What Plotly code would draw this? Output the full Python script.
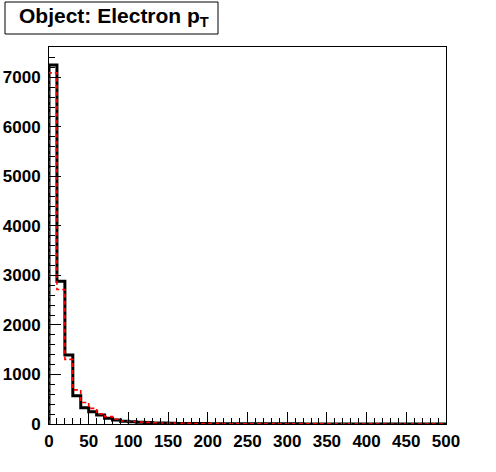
import plotly.graph_objects as go

bin_edges = [0, 10, 20, 30, 40, 50, 60, 70, 80, 90, 100, 110, 120, 130, 140, 150, 160, 170, 180, 190,
             200, 210, 220, 230, 240, 250, 260, 270, 280, 290, 300, 310, 320, 330, 340, 350, 360, 370,
             380, 390, 400, 410, 420, 430, 440, 450, 460, 470, 480, 490, 500]

black_counts = [7250, 2880, 1395, 570, 330, 248, 182, 114, 80, 58,
                45, 35, 28, 22, 18, 15, 12, 10, 9, 8,
                7, 6, 6, 5, 5, 4, 4, 4, 3, 3,
                3, 3, 2, 2, 2, 2, 2, 2, 1, 1,
                1, 1, 1, 1, 1, 1, 1, 1, 1, 1]

red_counts = [7090, 2716, 1305, 690, 435, 315, 205, 148, 95, 62,
              50, 40, 32, 25, 20, 17, 14, 12, 10, 9,
              8, 7, 6, 6, 5, 5, 4, 4, 4, 3,
              3, 3, 3, 2, 2, 2, 2, 2, 2, 1,
              1, 1, 1, 1, 1, 1, 1, 1, 1, 1]

x_tick_vals = [0, 50, 100, 150, 200, 250, 300, 350, 400, 450, 500]
y_tick_vals = [0, 1000, 2000, 3000, 4000, 5000, 6000, 7000]

def step(counts):
    xs = list(bin_edges[:-1]) + [bin_edges[-1]]
    ys = list(counts) + [counts[-1]]
    return [bin_edges[0]] + xs, [0] + ys

fig = go.Figure()
bx, by = step(black_counts)
fig.add_trace(go.Scatter(x=bx, y=by, mode="lines", line_shape="hv",
                         line=dict(color="black", width=3), showlegend=False, hoverinfo="skip"))
rx, ry = step(red_counts)
fig.add_trace(go.Scatter(x=rx, y=ry, mode="lines", line_shape="hv",
                         line=dict(color="red", width=1.6, dash="4px,3px"), showlegend=False, hoverinfo="skip"))

L, R, T, B = 49, 446, 47, 424
W, H = 496, 472
def px(xp):
    return (xp - L) / (R - L)
def py(yp):
    return (B - yp) / (B - T)

tickfont = dict(family="Liberation Sans", size=17, color="black", weight="bold")

fig.update_layout(
    width=W, height=H,
    margin=dict(l=L, r=W - R, t=T, b=H - B, pad=0, autoexpand=False),
    paper_bgcolor="white", plot_bgcolor="white",
    xaxis=dict(range=[0, 500], tickvals=x_tick_vals, ticks="inside", ticklen=12, tickwidth=1,
               tickcolor="black", showgrid=False, zeroline=False, showline=True, linecolor="black",
               linewidth=1, mirror=True, tickfont=tickfont, automargin=False, ticklabelstandoff=2,
               minor=dict(ticks="inside", ticklen=6, dtick=10, tickcolor="black", tickwidth=1, showgrid=False)),
    yaxis=dict(range=[0, 7612], tickvals=y_tick_vals, ticks="inside", ticklen=12, tickwidth=1,
               tickcolor="black", showgrid=False, zeroline=False, showline=True, linecolor="black",
               linewidth=1, mirror=True, tickfont=tickfont, ticklabelstandoff=4, automargin=False,
               minor=dict(ticks="inside", ticklen=6, dtick=200, tickcolor="black", tickwidth=1, showgrid=False)),
    shapes=[dict(type="rect", xref="paper", yref="paper", x0=px(5), x1=px(218), y0=py(34), y1=py(2),
                 line=dict(color="black", width=1), fillcolor="white", layer="above")],
    annotations=[dict(text="<b>Object: Electron p<sub>T</sub></b>", xref="paper", yref="paper",
                      x=px(114), y=py(17), xanchor="center", yanchor="middle", showarrow=False,
                      font=dict(family="Liberation Sans", size=21, color="black"))],
)

fig.write_html("out.html", config={"displayModeBar": False},
               post_script="document.body.style.margin='0';document.body.style.overflow='hidden';")
